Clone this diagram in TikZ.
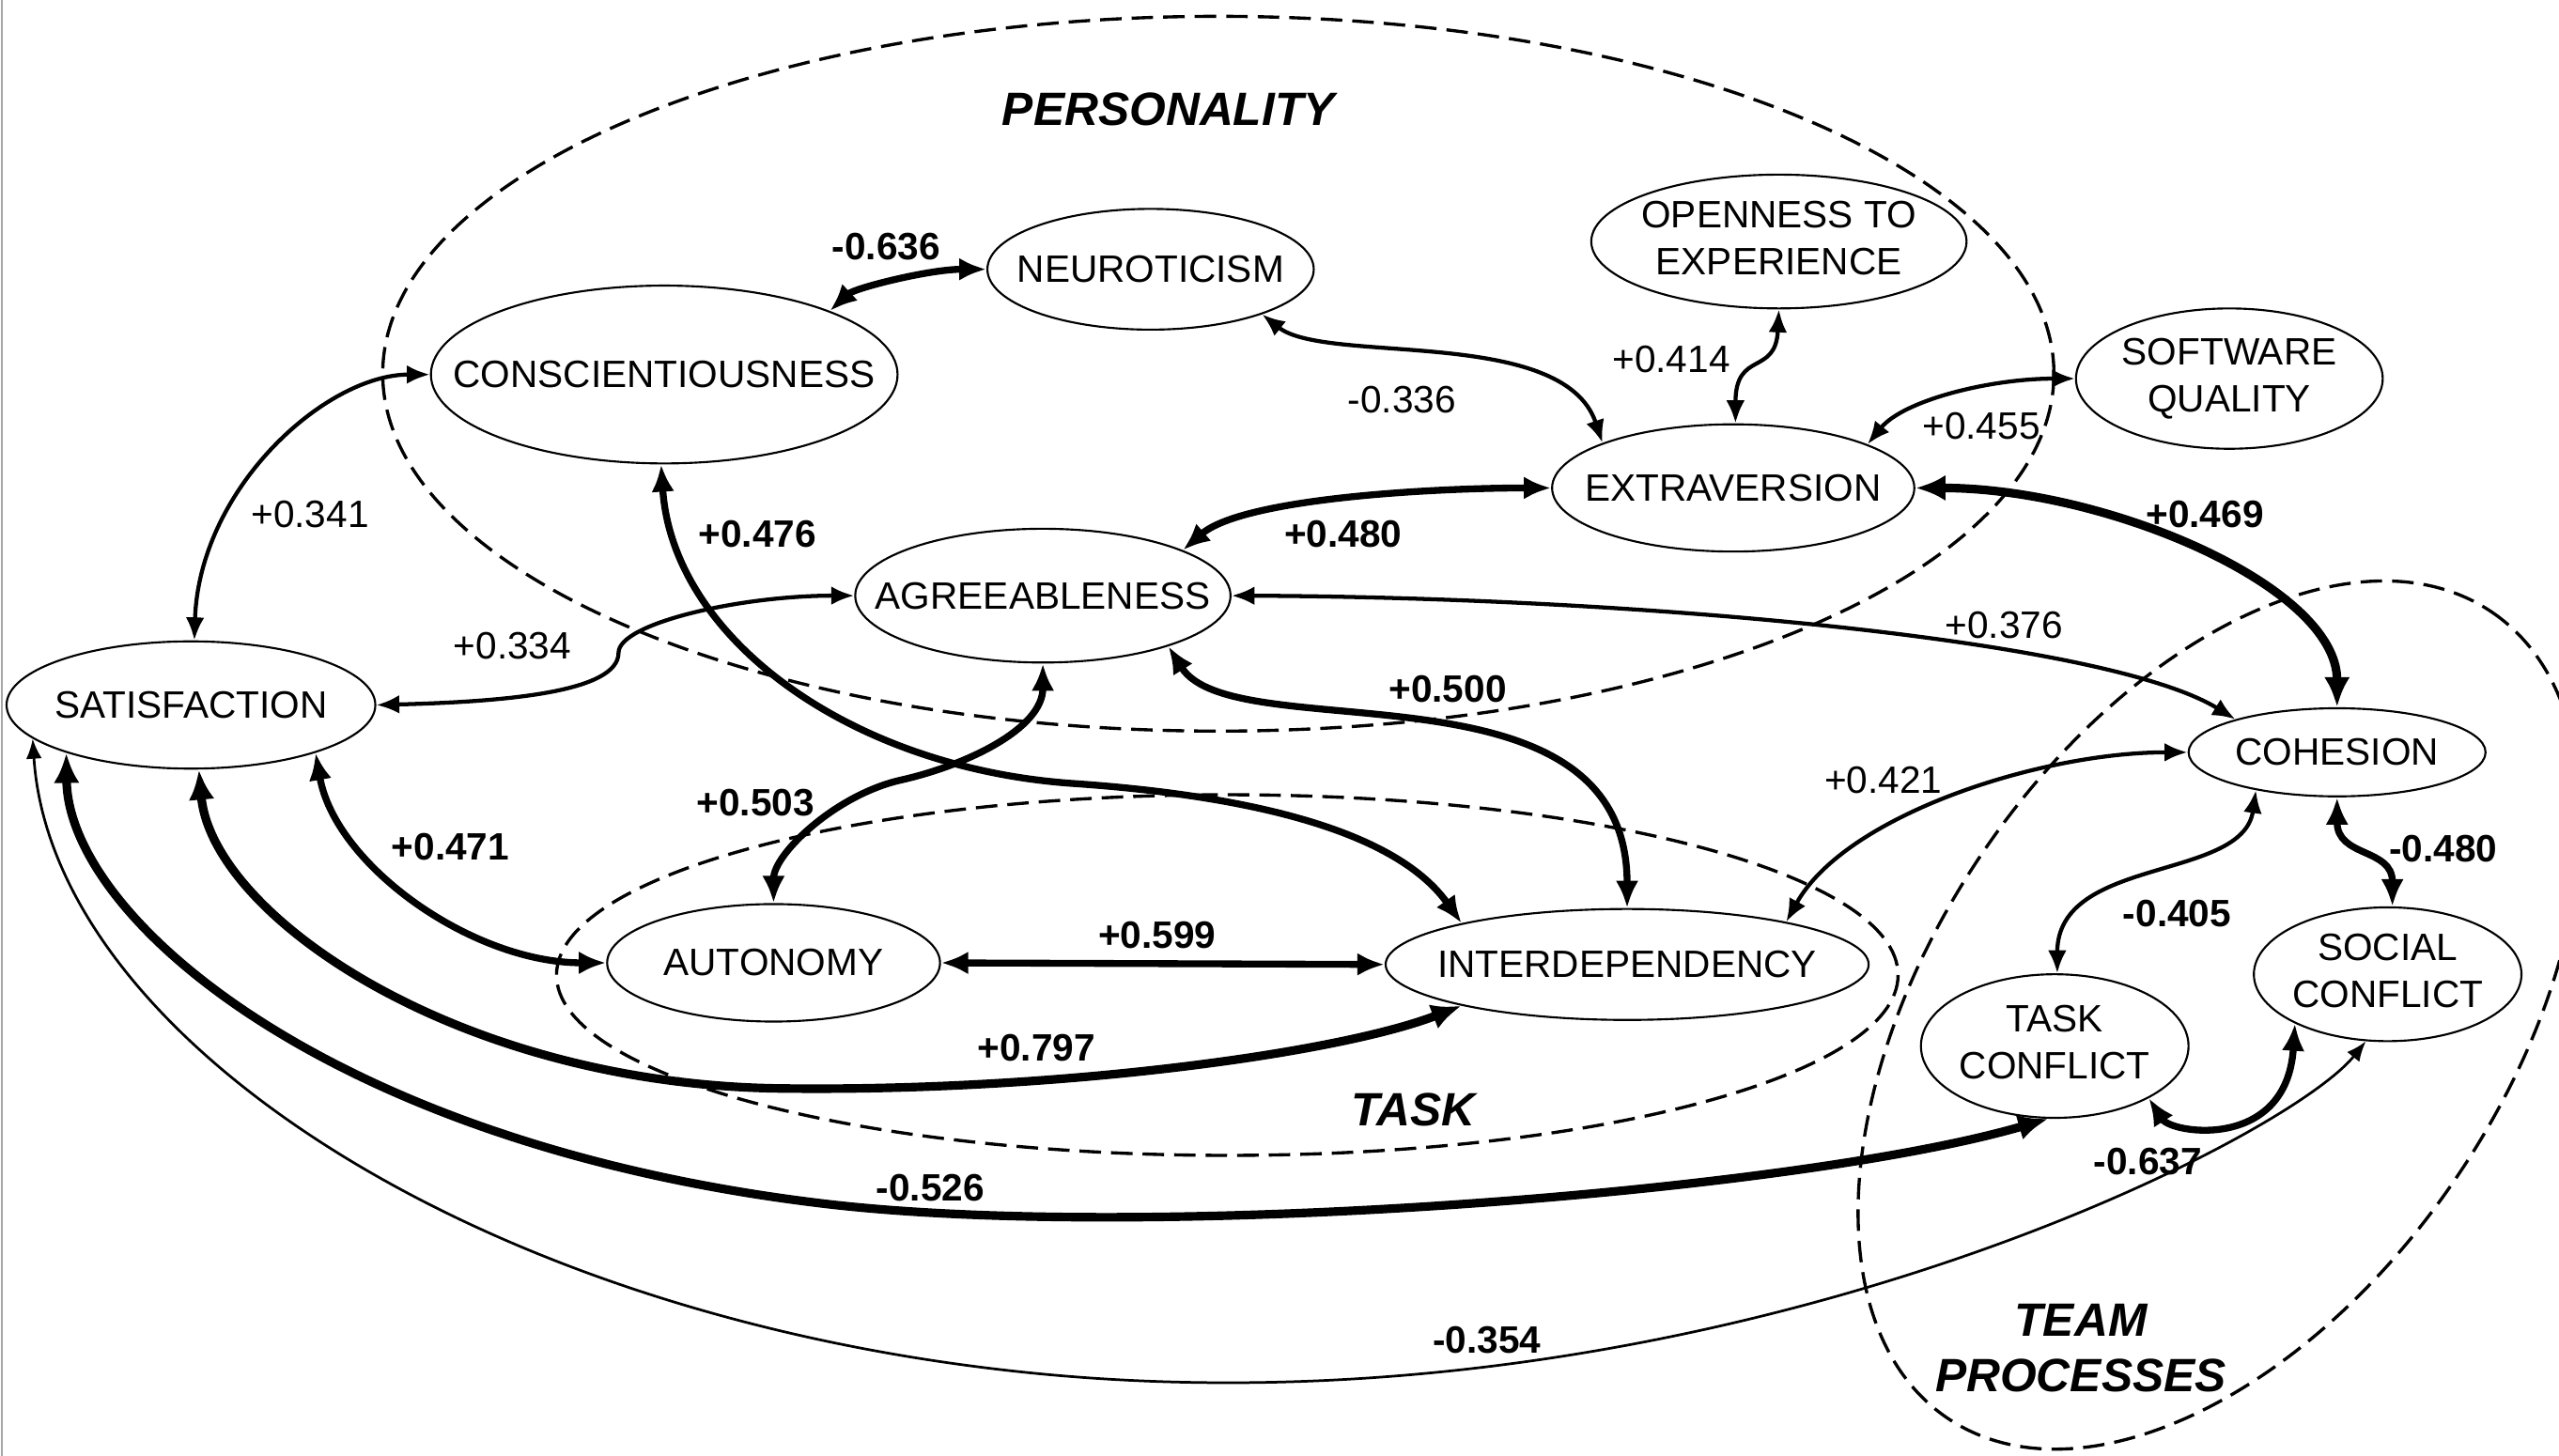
\documentclass[tikz,border=0pt]{standalone}
\usepackage{fontspec}
\setmainfont{Liberation Sans}
\usetikzlibrary{arrows.meta,shapes.geometric}
\newcommand{\twoline}[2]{\makebox[0pt]{\begin{tabular}{@{}c@{}}#1\\#2\end{tabular}}}
\newcommand{\oneline}[1]{\makebox[0pt]{#1}}
\begin{document}
\begin{tikzpicture}[x=0.02cm, y=-0.02cm,
  var/.style={draw, ellipse, line width=0.7pt, inner sep=0pt,
    font=\fontsize{13.3}{16.4}\selectfont},
  lab/.style={inner sep=0pt, font=\fontsize{13.3}{16.4}\selectfont},
  blab/.style={inner sep=0pt, font=\fontsize{13.3}{16.4}\selectfont\bfseries},
  grp/.style={draw, dash pattern=on 7.5pt off 3.5pt, line width=1.1pt},
  grplab/.style={inner sep=0pt, align=center,
    font=\fontsize{16.3}{19.3}\selectfont\bfseries\itshape},
  thinrel/.style={<->, >={Latex[length=7pt,width=5.5pt]}, line width=0.9pt},
  medrel/.style={<->, >={Latex[length=8pt,width=6.5pt]}, line width=1.4pt},
  thickrel/.style={<->, >={Latex[length=9.5pt,width=8pt]}, line width=2.4pt},
  vthickrel/.style={<->, >={Latex[length=10.5pt,width=9pt]}, line width=3pt}
]
\useasboundingbox (0,0) rectangle (1568,892);
\clip (0,0) rectangle (1568,892);

% page edge
\draw[gray!70, line width=0.6pt] (1,0) -- (1,892);

% construct groups
\draw[grp] (746.5,229) ellipse [x radius=512, y radius=219];
\draw[grp] (752,597.5) ellipse [x radius=411, y radius=110.5];
\draw[grp, rotate around={56:(1360,622)}] (1360,622) ellipse [x radius=298, y radius=176];

\node[grplab] (gpers) at (716,67) {PERSONALITY};
\node[grplab] (gtask) at (866,680) {TASK};
\node[grplab] (gteam) at (1275,826) {TEAM\\PROCESSES};

% variables
\node[var, minimum width=5.72cm, minimum height=2.18cm] (consc) at (407,229.5) {\oneline{CONSCIENTIOUSNESS}};
\node[var, minimum width=4.0cm, minimum height=1.48cm] (neuro) at (705,165) {\oneline{NEUROTICISM}};
\node[var, minimum width=4.6cm, minimum height=1.64cm] (open) at (1090,148) {\twoline{OPENNESS TO}{EXPERIENCE}};
\node[var, minimum width=3.76cm, minimum height=1.72cm] (sw) at (1366,232) {\twoline{SOFTWARE}{QUALITY}};
\node[var, minimum width=4.44cm, minimum height=1.56cm] (extra) at (1062,299) {\oneline{EXTRAVERSION}};
\node[var, minimum width=4.6cm, minimum height=1.64cm] (agree) at (639,365) {\oneline{AGREEABLENESS}};
\node[var, minimum width=4.52cm, minimum height=1.56cm] (sat) at (117,432) {\oneline{SATISFACTION}};
\node[var, minimum width=3.64cm, minimum height=1.08cm] (coh) at (1432,461) {\oneline{COHESION}};
\node[var, minimum width=4.08cm, minimum height=1.44cm] (auto) at (474,590) {\oneline{AUTONOMY}};
\node[var, minimum width=5.92cm, minimum height=1.36cm] (inter) at (997,591) {\oneline{INTERDEPENDENCY}};
\node[var, minimum width=3.28cm, minimum height=1.76cm] (tc) at (1259,641) {\twoline{TASK}{CONFLICT}};
\node[var, minimum width=3.28cm, minimum height=1.64cm] (sc) at (1463,597) {\twoline{SOCIAL}{CONFLICT}};

% waypoints of the longer curves
\coordinate (w476) at (656,480);
\coordinate (w334) at (379,400);
\coordinate (w503) at (552,478);
\coordinate (w797) at (480,667);
\coordinate (w526) at (500,737);
\coordinate (w354) at (650,843);

% relations
\draw[thickrel] (consc.21) .. controls +(15,-14) and +(-35,0) .. (neuro.180);
\draw[medrel] (sat.87) .. controls +(3,-93) and +(-64,0) .. (consc.180);
\draw[thickrel] (consc.268) .. controls +(7,106) and +(-136,-10) .. (w476)
  .. controls +(74,5) and +(-47,-66) .. (inter.166);
\draw[medrel] (neuro.338) .. controls +(39,31) and +(-24,-72) .. (extra.161);
\draw[medrel] (open.270) .. controls +(-2,41) and +(0,-45) .. (extra.88);
\draw[medrel] (extra.18) .. controls +(22,-27) and +(-52,0) .. (sw.180);
\draw[thickrel] (agree.18) .. controls +(37,-32) and +(-71,0) .. (extra.180);
\draw[vthickrel] (extra.0) .. controls +(117,0) and +(0,-74) .. (coh.90);
\draw[medrel] (agree.0) .. controls +(246,1) and +(-80,-49) .. (coh.162);
\draw[medrel] (sat.0) .. controls +(80,-2) and +(0,24) .. (w334)
  .. controls +(0,-18) and +(-70,0) .. (agree.180);
\draw[thickrel] (agree.338) .. controls +(40,64) and +(0,-157) .. (inter.90);
\draw[thickrel] (agree.270) .. controls +(0,40) and +(40,-9) .. (w503)
  .. controls +(-40,9) and +(0,-30) .. (auto.90);
\draw[thickrel] (sat.339) .. controls +(12,69) and +(-82,0) .. (auto.180);
\draw[thickrel] (auto.0) -- (inter.180);
\draw[vthickrel] (sat.277) .. controls +(8,89) and +(-200,-2) .. (w797)
  .. controls +(170,2) and +(-75,29) .. (inter.194);
\draw[vthickrel] (sat.201) .. controls +(1,100) and +(-300,-37) .. (w526)
  .. controls +(200,25) and +(-155,45) .. (tc.265);
\draw[thinrel] (sat.192) .. controls +(12,185) and +(-350,-30) .. (w354)
  .. controls +(400,34) and +(-50,62) .. (sc.252);
\draw[medrel] (inter.15) .. controls +(36,-65) and +(-91,0) .. (coh.180);
\draw[medrel] (coh.205) .. controls +(-8,56) and +(0,-72) .. (tc.88);
\draw[thickrel] (coh.270) .. controls +(0,37) and +(0,-36) .. (sc.86);
\draw[thickrel] (tc.331) .. controls +(14,22) and +(-5,78) .. (sc.208);

% coefficients
\node[blab] (c636) at (543,151) {-0.636};
\node[lab]  (c341) at (190,315) {+0.341};
\node[blab] (c476) at (464,327) {+0.476};
\node[lab]  (c336) at (859,245) {-0.336};
\node[lab]  (c414) at (1024,220) {+0.414};
\node[lab]  (c455) at (1214,261) {+0.455};
\node[blab] (c480a) at (823,327) {+0.480};
\node[blab] (c469) at (1351,315) {+0.469};
\node[lab]  (c334) at (314,396) {+0.334};
\node[lab]  (c376) at (1228,383) {+0.376};
\node[blab] (c500) at (887,422) {+0.500};
\node[blab] (c503) at (463,492) {+0.503};
\node[blab] (c471) at (276,519) {+0.471};
\node[lab]  (c421) at (1154,478) {+0.421};
\node[blab] (c405) at (1334,560) {-0.405};
\node[blab] (c480b) at (1497,520) {-0.480};
\node[blab] (c599) at (709,573) {+0.599};
\node[blab] (c797) at (635,642) {+0.797};
\node[blab] (c526) at (570,728) {-0.526};
\node[blab] (c637) at (1316,712) {-0.637};
\node[blab] (c354) at (911,821) {-0.354};
\end{tikzpicture}
\end{document}
